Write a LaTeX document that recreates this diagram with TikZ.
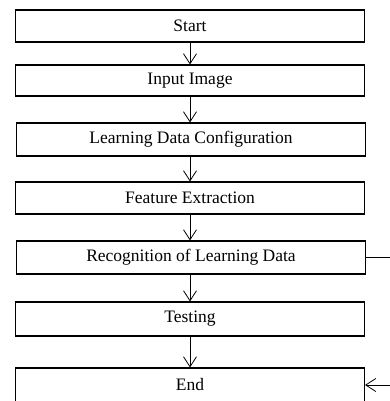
\documentclass[tikz,border=0pt]{standalone}
\usepackage{fontspec}
\setmainfont{Liberation Serif}
\usetikzlibrary{arrows.meta}
\begin{document}
\begin{tikzpicture}[x=1pt,y=-1pt,
  stepbox/.style={draw, line width=1.1pt, minimum width=349pt, minimum height=32pt,
    inner sep=0pt, font=\fontsize{17.5}{20}\selectfont},
  flow/.style={line width=0.8pt,
    -{Straight Barb[length=10pt,width=13pt,line width=0.8pt]}}]
\clip (0,0) rectangle (390,401);
\node[stepbox, minimum height=32pt] (start) at (190,26)    {Start};
\node[stepbox, minimum height=31pt] (input) at (190,80.5)  {Input Image};
\node[stepbox, minimum height=33pt] (config) at (191,139.5) {Learning Data Configuration};
\node[stepbox, minimum height=32pt] (feat) at (190,198)    {Feature Extraction};
\node[stepbox, minimum height=33pt] (recog) at (191,257.5) {Recognition of Learning Data};
\node[stepbox, minimum height=34pt] (test) at (190,319)    {Testing};
\node[stepbox, minimum height=34pt] (end) at (190,385)     {End};
\coordinate (edge) at (392,0);
\draw[flow] (start) -- (input);
\draw[flow] (input) -- (config.north -| input);
\draw[flow] (config.south -| input) -- (feat);
\draw[flow] (feat) -- (recog.north -| feat);
\draw[flow] (recog.south -| feat) -- (test);
\draw[flow] (test) -- (end);
\draw[line width=0.8pt] (recog.east) -- (recog.east -| edge);
\draw[flow] (end.east -| edge) -- (end.east);
\end{tikzpicture}
\end{document}
